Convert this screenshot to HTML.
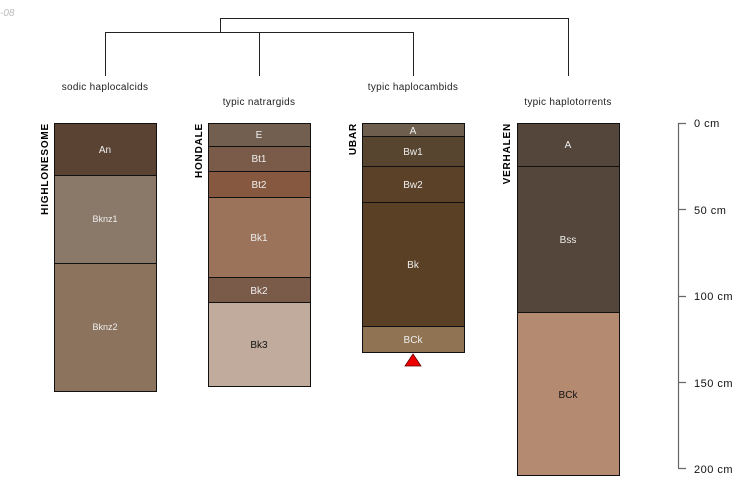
<!DOCTYPE html>
<html><head><style>body{margin:0;background:#fff}svg{display:block}</style></head><body>
<svg width="750" height="500" viewBox="0 0 750 500" xmlns="http://www.w3.org/2000/svg" font-family="Liberation Sans, sans-serif">
<text x="0" y="16" font-size="10" fill="#bbb" font-style="italic">-08</text>
<g stroke="#222" stroke-width="1" fill="none">
<path d="M220.5 32V18.5H568.5V76"/>
<path d="M105.5 76V32.5H413.5V76"/>
<path d="M259.5 32V76"/>
</g>
<g font-size="10" fill="#222" text-anchor="middle" letter-spacing="0.3">
<text x="105" y="90">sodic haplocalcids</text>
<text x="259" y="105">typic natrargids</text>
<text x="413" y="90">typic haplocambids</text>
<text x="568" y="105">typic haplotorrents</text>
</g>
<g font-size="10" font-weight="bold" fill="#000" letter-spacing="0.8">
<text transform="translate(48,123) rotate(-90)" text-anchor="end">HIGHLONESOME</text>
<text transform="translate(202,123) rotate(-90)" text-anchor="end">HONDALE</text>
<text transform="translate(356,123) rotate(-90)" text-anchor="end">UBAR</text>
<text transform="translate(510,123) rotate(-90)" text-anchor="end">VERHALEN</text>
</g>
<g stroke="#111" stroke-width="1">
<rect x="54.5" y="123.5" width="102" height="52" fill="#5a4332"/>
<rect x="54.5" y="175.5" width="102" height="88" fill="#8a7868"/>
<rect x="54.5" y="263.5" width="102" height="128" fill="#8c735e"/>
<rect x="208.5" y="123.5" width="102" height="23" fill="#735f50"/>
<rect x="208.5" y="146.5" width="102" height="25" fill="#7a5a48"/>
<rect x="208.5" y="171.5" width="102" height="26" fill="#85583f"/>
<rect x="208.5" y="197.5" width="102" height="80" fill="#9a735a"/>
<rect x="208.5" y="277.5" width="102" height="25" fill="#7a5a48"/>
<rect x="208.5" y="302.5" width="102" height="84" fill="#c1ab9c"/>
<rect x="362.5" y="123.5" width="102" height="13" fill="#6e5e4e"/>
<rect x="362.5" y="136.5" width="102" height="30" fill="#574530"/>
<rect x="362.5" y="166.5" width="102" height="36" fill="#5b4128"/>
<rect x="362.5" y="202.5" width="102" height="124" fill="#5a4125"/>
<rect x="362.5" y="326.5" width="102" height="26" fill="#8f7352"/>
<rect x="517.5" y="123.5" width="102" height="43" fill="#54463a"/>
<rect x="517.5" y="166.5" width="102" height="146" fill="#54463a"/>
<rect x="517.5" y="312.5" width="102" height="163" fill="#b48a70"/>
</g>
<path d="M413 354L405 366H421Z" fill="#e00" stroke="#600" stroke-width="0.8"/>
<g font-size="10" fill="#eee" text-anchor="middle">
<text x="105" y="153">An</text>
<text x="105" y="222" font-size="9">Bknz1</text>
<text x="105" y="330" font-size="9">Bknz2</text>
<text x="259" y="138">E</text>
<text x="259" y="162">Bt1</text>
<text x="259" y="188">Bt2</text>
<text x="259" y="241">Bk1</text>
<text x="259" y="294">Bk2</text>
<text x="259" y="348" fill="#111">Bk3</text>
<text x="413" y="134">A</text>
<text x="413" y="155">Bw1</text>
<text x="413" y="188">Bw2</text>
<text x="413" y="268">Bk</text>
<text x="413" y="343">BCk</text>
<text x="568" y="148">A</text>
<text x="568" y="243">Bss</text>
<text x="568" y="398" fill="#111">BCk</text>
</g>
<g stroke="#666" stroke-width="1.2" fill="none">
<path d="M678.5 123V468"/>
<path d="M678 123.5H686M678 209.5H686M678 296.5H686M678 382.5H686M678 468.5H686"/>
</g>
<g font-size="11" fill="#111" letter-spacing="0.5">
<text x="694" y="127">0 cm</text>
<text x="694" y="214">50 cm</text>
<text x="694" y="300">100 cm</text>
<text x="694" y="387">150 cm</text>
<text x="694" y="473">200 cm</text>
</g>
</svg>
</body></html>
